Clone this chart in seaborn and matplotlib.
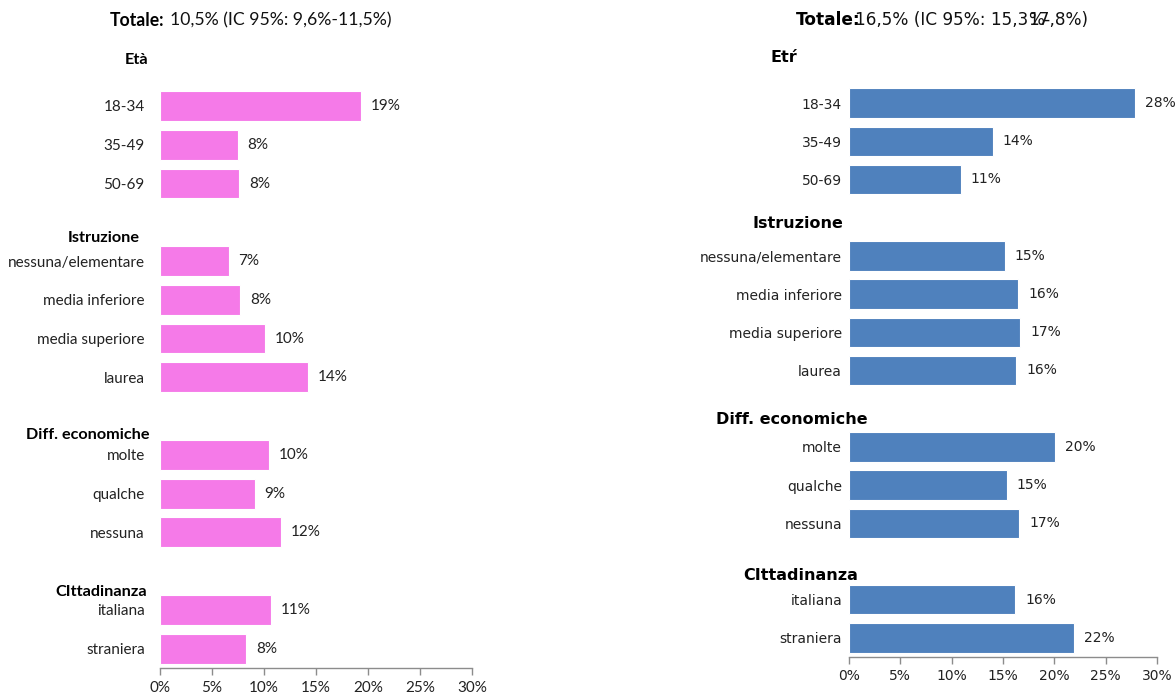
import matplotlib
matplotlib.use("Agg")
import matplotlib.pyplot as plt
import seaborn as sns
import pandas as pd
from matplotlib.ticker import FuncFormatter

sns.set_theme(style="white")

categories = ["18-34", "35-49", "50-69",
              "nessuna/elementare", "media inferiore", "media superiore", "laurea",
              "molte", "qualche", "nessuna",
              "italiana", "straniera"]
groups = ["Età", "Istruzione", "Diff. economiche", "CIttadinanza"]
groups_right = ["Etŕ", "Istruzione", "Diff. economiche", "CIttadinanza"]
row_pos = [0, 1, 2, 4, 5, 6, 7, 9, 10, 11, 13, 14]
left_values = [19.3, 7.5, 7.6, 6.6, 7.7, 10.1, 14.2, 10.5, 9.1, 11.6, 10.7, 8.3]
right_values = [27.9, 14.0, 10.9, 15.2, 16.5, 16.7, 16.3, 20.1, 15.4, 16.6, 16.2, 21.9]
x_ticks = [0, 5, 10, 15, 20, 25, 30]
left_title = ["Totale:", "10,5% (IC 95%: 9,6%-11,5%)"]
right_title = ["Totale:", "16,5% (IC 95%: 15,3", "%-", "17,8%)"]

W, H = 1176, 697
fig = plt.figure(figsize=(W / 100, H / 100), dpi=100)


def fx(px):
    return px / W


def fy(py):
    return 1 - py / H


def panel(rect, values, color, font, fs, pad_lbl, headers, header_xy, hfs, tcol, xpad):
    ax = fig.add_axes(rect)
    df = pd.DataFrame({"pos": row_pos, "val": values})
    sns.barplot(data=df, x="val", y="pos", orient="h", native_scale=True,
                color=color, saturation=1, width=0.77, edgecolor="white",
                linewidth=0.8, ax=ax)
    ax.set_xlim(0, 30)
    ax.set_ylim(14.5, -0.5)
    ax.set_yticks(row_pos)
    ax.set_yticklabels(categories, fontfamily=font, fontsize=fs, color=tcol)
    ax.tick_params(axis="y", length=0, pad=pad_lbl)
    ax.set_xticks(x_ticks)
    ax.xaxis.set_major_formatter(FuncFormatter(lambda v, p: f"{int(v)}%"))
    for lab in ax.get_xticklabels():
        lab.set_fontfamily(font)
        lab.set_fontsize(fs)
        lab.set_color(tcol)
    ax.tick_params(axis="x", length=5, width=1, color="#8c8c8c", pad=xpad, bottom=True)
    for s in ["top", "right", "left"]:
        ax.spines[s].set_visible(False)
    ax.spines["bottom"].set_color("#8c8c8c")
    ax.spines["bottom"].set_linewidth(1)
    ax.set_xlabel("")
    ax.set_ylabel("")
    for c in ax.containers:
        ax.bar_label(c, labels=[f"{v:.0f}%" for v in values], padding=7,
                     fontfamily=font, fontsize=fs, color=tcol)
    for g, (hx, hy) in zip(headers, header_xy):
        fig.text(fx(hx), fy(hy), g, ha="left", va="center", fontfamily=font,
                 fontsize=hfs, fontweight="bold", color="black")
    return ax


panel([fx(160), fy(668), fx(472) - fx(160), fy(86.6) - fy(668)],
      left_values, "#F57AE8", "Lato", 11, 11, groups,
      [(125, 60), (68, 238), (26, 435), (55, 592)], 11.7, "#222222", 4)

panel([fx(849), fy(657), fx(1157) - fx(849), fy(83.9) - fy(657)],
      right_values, "#4F81BD", "DejaVu Sans", 10, 5, groups_right,
      [(770, 57), (753, 224), (716, 419), (743, 576)], 11.5, "#222222", 4)

# titles
renderer = fig.canvas.get_renderer()
t1 = fig.text(fx(110), fy(20), left_title[0], ha="left", va="center", fontfamily="Lato",
              fontsize=12.7, fontweight="bold", color="black")
bb = t1.get_window_extent(renderer)
fig.text((bb.x1 + 5) / W, fy(20), left_title[1], ha="left", va="center",
         fontfamily="Lato", fontsize=12.7, color="#111111")

r1 = fig.text(fx(796), fy(20), right_title[0], ha="left", va="center",
              fontfamily="DejaVu Sans", fontsize=12.2, fontweight="bold", color="black")
bb = r1.get_window_extent(renderer)
r2 = fig.text((bb.x1 - 6) / W, fy(20), right_title[1], ha="left", va="center",
              fontfamily="DejaVu Sans", fontsize=12.2, color="#111111")
bb2 = r2.get_window_extent(renderer)
fig.text(bb2.x1 / W, fy(20), right_title[2], ha="left", va="center",
         fontfamily="DejaVu Sans", fontsize=12.2, color="#111111")
fig.text(bb2.x1 / W, fy(20), right_title[3], ha="left", va="center",
         fontfamily="DejaVu Sans", fontsize=12.2, color="#111111")

fig.savefig("out.png", dpi=100)
